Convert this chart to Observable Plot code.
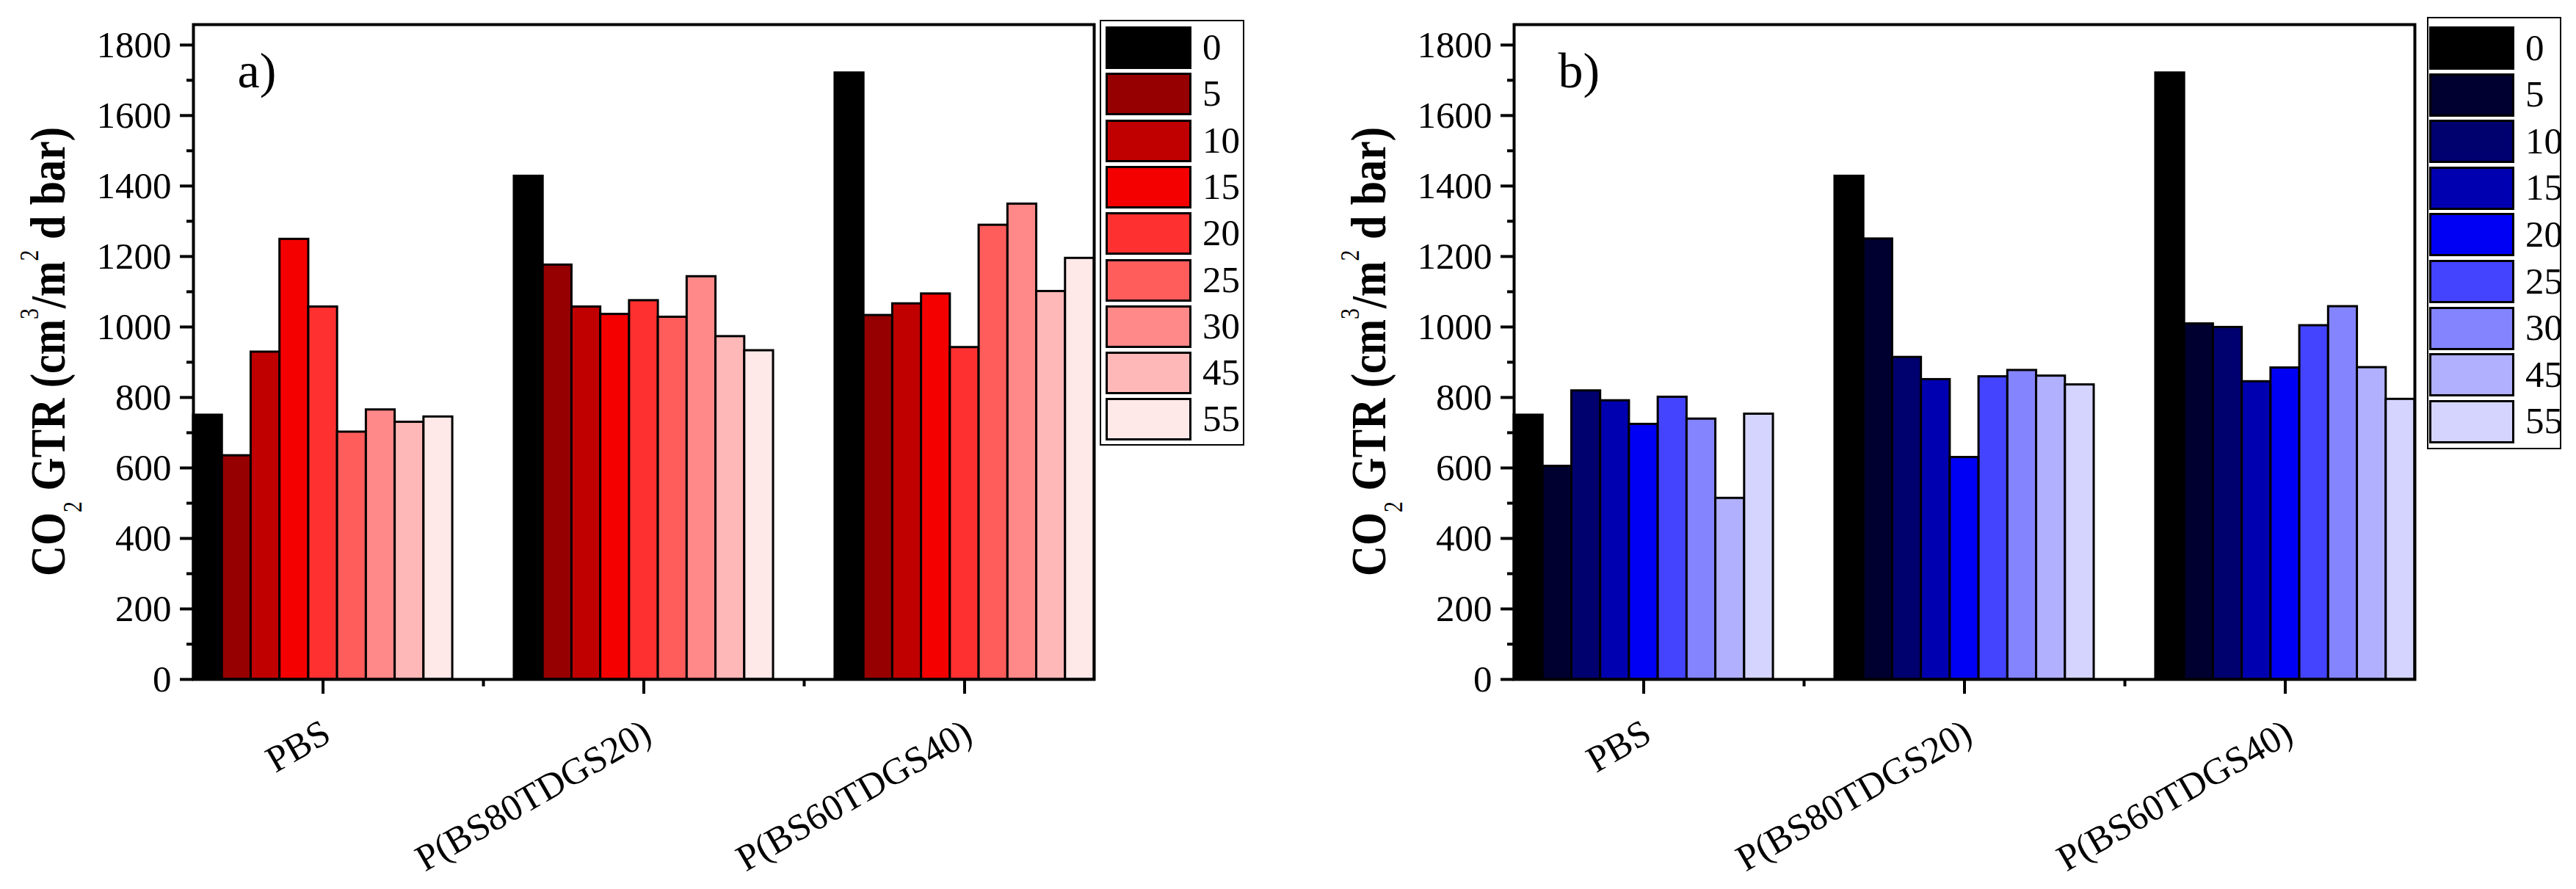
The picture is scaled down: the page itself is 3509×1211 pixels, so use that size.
<!DOCTYPE html>
<html><head><meta charset="utf-8">
<script src="https://cdn.jsdelivr.net/npm/d3@7"></script>
<script src="https://cdn.jsdelivr.net/npm/@observablehq/plot@0.6"></script>
<style>
html,body{margin:0;padding:0;background:#fff;}
#root{position:relative;width:3509px;height:1211px;overflow:hidden;background:#fff;font-family:'Liberation Serif',Tinos,'Times New Roman',Times,serif;}
.panel{position:absolute;top:0;}
.legend{position:absolute;box-sizing:border-box;border:2.5px solid #000;background:#fff;}
.sw{position:absolute;box-sizing:border-box;border:3px solid #000;}
.lab{position:absolute;font-size:51px;line-height:1;color:#000;white-space:nowrap;font-family:'Liberation Serif',Tinos,'Times New Roman',Times,serif;}
</style></head><body><div id="root"></div>
<script>
// ---- data ----
const groups = ["PBS", "P(BS80TDGS20)", "P(BS60TDGS40)"];
const series = ["0", "5", "10", "15", "20", "25", "30", "45", "55"];
const redColors  = ["#000000", "#960000", "#c00000", "#f50000", "#ff3030", "#ff5c5c", "#ff8888", "#ffb8b8", "#ffe8e8"];
const blueColors = ["#000000", "#000030", "#00006e", "#0000b0", "#0000f5", "#4444ff", "#8484ff", "#b0b0ff", "#d4d4ff"];
const yTicks = [0, 200, 400, 600, 800, 1000, 1200, 1400, 1600, 1800];
const yMinorTicks = [100, 300, 500, 700, 900, 1100, 1300, 1500, 1700];

// panel a (red)
const gtrA_PBS  = [750, 635, 929, 1249, 1057, 702, 765, 730, 745];
const gtrA_BS80 = [1428, 1176, 1057, 1036, 1075, 1028, 1143, 973, 933];
const gtrA_BS60 = [1721, 1033, 1066, 1094, 942, 1289, 1349, 1101, 1195];
// panel b (blue)
const gtrB_PBS  = [750, 605, 819, 791, 724, 801, 739, 514, 753];
const gtrB_BS80 = [1428, 1250, 914, 851, 630, 859, 877, 861, 836];
const gtrB_BS60 = [1721, 1009, 999, 845, 884, 1004, 1058, 885, 795];

function rowsOf(lists) {
  const rows = [];
  lists.forEach((vals, gi) => vals.forEach((v, si) => rows.push({group: groups[gi], series: series[si], gi, si, value: v})));
  return rows;
}

const F = 0.808;                 // share of a category occupied by its bars
const BW = F / series.length;    // one bar in x units
const FONT = "'Liberation Serif', Tinos, 'Times New Roman', Times, serif";

function makePanel(rows, colors, tag) {
  const plot = Plot.plot({
    width: 1497, height: 1211,
    marginLeft: 263, marginRight: 7, marginTop: 33, marginBottom: 286,
    style: {fontFamily: FONT, fontSize: "51px", background: "transparent", overflow: "visible", color: "#000"},
    x: {type: "linear", domain: [-F / 2, groups.length - 1 + F / 2]},
    y: {domain: [0, 1858]},
    color: {domain: series, range: colors},
    marks: [
      Plot.rect(rows, {
        x1: d => d.gi - F / 2 + d.si * BW,
        x2: d => d.gi - F / 2 + (d.si + 1) * BW,
        y1: 0, y2: "value",
        fill: "series", stroke: "#000", strokeWidth: 3
      }),
      Plot.axisY({ticks: yTicks, tickFormat: d => String(d), tickSize: 18, tickPadding: 12, strokeWidth: 4, fontSize: 51, fontFamily: FONT, label: null}),
      Plot.axisY({ticks: yMinorTicks, tickSize: 9, tickFormat: () => "", strokeWidth: 4, label: null}),
      Plot.axisX({ticks: [0, 1, 2], tickSize: 20, tickFormat: () => "", strokeWidth: 4, label: null}),
      Plot.axisX({ticks: [0.5, 1.5], tickSize: 10, tickFormat: () => "", strokeWidth: 4, label: null}),
      Plot.frame({stroke: "#000", strokeWidth: 4}),
      Plot.text([tag], {frameAnchor: "top-left", textAnchor: "start", lineAnchor: "top", dx: 60, dy: 37, fontSize: 68, fontFamily: FONT, fill: "#000"})
    ]
  });
  const svg = d3.select(plot);
  // category labels, placed with Plot's own x and y scales, rotated 30 degrees
  const xs = plot.scale("x");
  const ys = plot.scale("y");
  const y0 = ys.apply(0);
  groups.forEach((g, i) => {
    const px = xs.apply(i);
    svg.append("text")
      .attr("transform", `translate(${px + 14},${y0 + 83}) rotate(-30)`)
      .attr("text-anchor", "end")
      .style("font-family", FONT).attr("font-size", 51).attr("fill", "#000")
      .text(g);
  });
  // y axis title with sub/superscripts
  const t = svg.append("text")
    .attr("transform", "translate(88,479) rotate(-90) scale(1,1.17)")
    .attr("text-anchor", "middle")
    .style("font-family", FONT).attr("font-size", 58).attr("font-weight", "bold").attr("fill", "#000");
  t.append("tspan").text("CO");
  t.append("tspan").attr("font-size", 30).attr("font-weight", "normal").attr("dy", 20).text("2");
  t.append("tspan").attr("dy", -20).text(" GTR (cm");
  t.append("tspan").attr("font-size", 30).attr("font-weight", "normal").attr("dy", -31).text("3");
  t.append("tspan").attr("dy", 31).text("/m");
  t.append("tspan").attr("font-size", 30).attr("font-weight", "normal").attr("dy", -31).text("2");
  t.append("tspan").attr("dy", 31).text(" d bar)");
  return plot;
}

function makeLegend(colors, box, sw) {
  const lg = document.createElement("div");
  lg.className = "legend";
  Object.assign(lg.style, {left: box.x + "px", top: box.y + "px", width: box.w + "px", height: box.h + "px"});
  series.forEach((s, i) => {
    const d = document.createElement("div");
    d.className = "sw";
    Object.assign(d.style, {left: (sw.x - box.x) + "px", top: (sw.y - box.y + i * sw.pitch) + "px", width: sw.w + "px", height: sw.h + "px", background: colors[i]});
    lg.appendChild(d);
    const l = document.createElement("div");
    l.className = "lab";
    l.textContent = s;
    Object.assign(l.style, {left: (sw.lx - box.x) + "px", top: (sw.y - box.y + i * sw.pitch + sw.h / 2 - 26) + "px"});
    lg.appendChild(l);
  });
  return lg;
}

const root = document.getElementById("root");
const pa = makePanel(rowsOf([gtrA_PBS, gtrA_BS80, gtrA_BS60]), redColors, "a)");
pa.classList.add("panel"); pa.style.left = "0px";
root.appendChild(pa);
const pb = makePanel(rowsOf([gtrB_PBS, gtrB_BS80, gtrB_BS60]), blueColors, "b)");
pb.classList.add("panel"); pb.style.left = "1799px";
root.appendChild(pb);

root.appendChild(makeLegend(redColors,  {x: 1498, y: 27, w: 197, h: 580}, {x: 1504, y: 34, w: 117, h: 58, pitch: 63.3, lx: 1636}));
root.appendChild(makeLegend(blueColors, {x: 3306, y: 23, w: 183, h: 589}, {x: 3307, y: 34, w: 116, h: 59, pitch: 63.6, lx: 3438}));
</script>
</body></html>
